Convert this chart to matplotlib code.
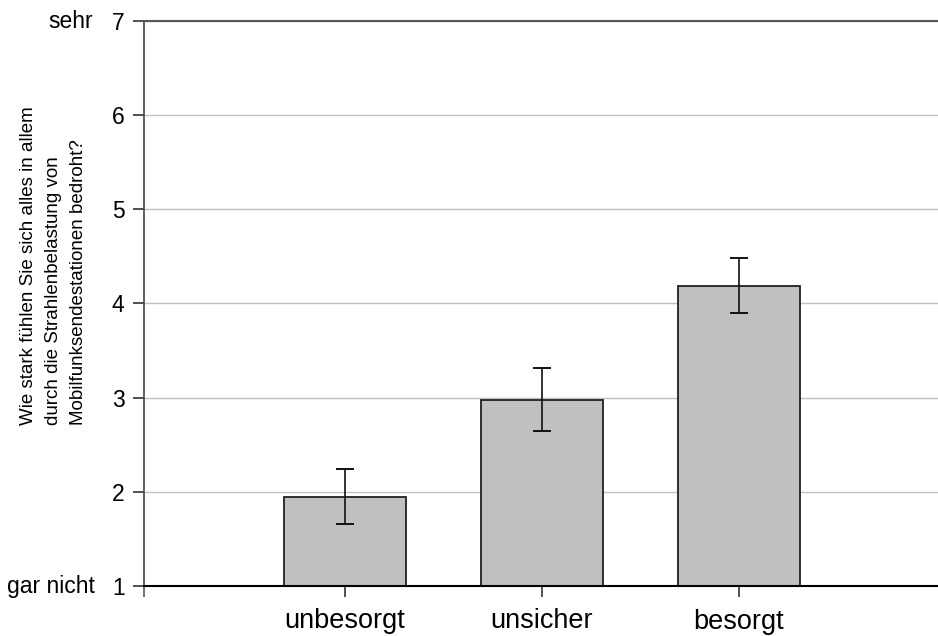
import matplotlib
matplotlib.use("Agg")
import matplotlib.pyplot as plt
import numpy as np

plt.rcParams['font.family'] = ['Liberation Sans', 'DejaVu Sans']

categories = ["unbesorgt", "unsicher", "besorgt"]
means = [1.95, 2.98, 4.19]
errors = [0.295, 0.335, 0.295]
y_ticks = [1, 2, 3, 4, 5, 6, 7]
y_label = ("Wie stark fühlen Sie sich alles in allem\n"
           "durch die Strahlenbelastung von\n"
           "Mobilfunksendestationen bedroht?")
low_label = "gar nicht"
high_label = "sehr"

fig = plt.figure(figsize=(9.38, 6.36), dpi=100)
ax = fig.add_axes([0.1535, 0.0786, 0.8465, 0.8884])

x = np.arange(len(categories))
ax.set_axisbelow(True)
ax.yaxis.grid(True, color="#c0c0c0", linewidth=1.0)
ax.bar(x, means, width=0.615, bottom=0, color="#c0c0c0",
       edgecolor="#202020", linewidth=1.3, zorder=2)
ax.errorbar(x, means, yerr=errors, fmt="none", ecolor="#111111",
            elinewidth=1.2, capsize=6.5, capthick=1.4, zorder=3)

ax.set_ylim(1, 7)
ax.set_xlim(-1.02, 3.01)
ax.set_yticks(y_ticks)
ax.set_yticklabels([str(v) for v in y_ticks], fontsize=16.5)
ax.set_xticks(x)
ax.set_xticklabels(categories, fontsize=19.5)
ax.set_xticks([-1.02], minor=True)
ax.tick_params(axis="x", which="major", length=8, width=1.2,
               color="#333333", pad=8)
ax.tick_params(axis="x", which="minor", length=8, width=1.2,
               color="#555555")
ax.tick_params(axis="y", length=8, width=1.2, color="#333333", pad=6)
# nudge the last category label down a little
ax.get_xticklabels()[2].set_y(-0.002)

ax.spines["right"].set_visible(False)
ax.spines["top"].set_color("#555555")
ax.spines["top"].set_linewidth(1.5)
ax.spines["left"].set_color("#444444")
ax.spines["left"].set_linewidth(1.2)
ax.spines["bottom"].set_color("#000000")
ax.spines["bottom"].set_linewidth(1.5)

fig.text(0.0575, 0.582, y_label, rotation=90, ha="center", va="center",
         multialignment="left", fontsize=13.5, linespacing=1.62)
fig.text(0.099, 1 - 21 / 636, high_label, ha="right", va="center", fontsize=16.5)
fig.text(0.101, 1 - 586 / 636, low_label, ha="right", va="center", fontsize=16.5)

fig.savefig("out.png", dpi=100)
